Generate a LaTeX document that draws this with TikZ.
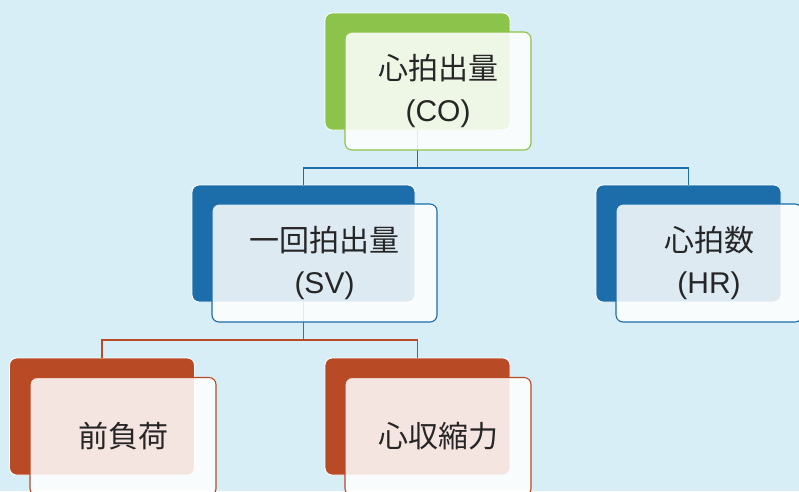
\documentclass[tikz,border=0pt]{standalone}
\usepackage{fontspec}
\newfontfamily\jpfont{Noto Sans CJK JP}
\newfontfamily\latfont{Liberation Sans}
\usetikzlibrary{positioning}

\definecolor{bgblue}{HTML}{D7EEF6}
\definecolor{cogreen}{HTML}{8CC34A}
\definecolor{svblue}{HTML}{1B6EA9}
\definecolor{prered}{HTML}{B84A26}

\tikzset{
  backbox/.style={rounded corners=7pt, fill=#1, draw=white, line width=0.9pt,
    minimum width=185pt, minimum height=117pt, inner sep=0pt},
  frontbox/.style={rounded corners=7pt, fill=white, fill opacity=0.86, text opacity=1,
    draw=#1, draw opacity=1, line width=1.1pt, minimum width=186pt, minimum height=118pt,
    align=center, inner sep=0pt, font=\jpfont\fontsize{30}{42}\selectfont, text=black!85},
  link/.style={draw=#1, line width=1.1pt}
}

\begin{document}
\begin{tikzpicture}[x=1pt, y=-1pt]
  \fill[bgblue] (0,0) rectangle (799,491);
  \useasboundingbox (0,0) rectangle (799,491);

  \node (co-b) [backbox=cogreen] at (417.5,71.5) {};
  \node (sv-b) [backbox=svblue, minimum width=223pt] at (303.5,243.5) {};
  \node (hr-b) [backbox=svblue] at (688.5,243.5) {};
  \node (pl-b) [backbox=prered] at (102,416.5) {};
  \node (ct-b) [backbox=prered] at (417.5,416.5) {};

  \coordinate (j1) at (417.5,168);
  \coordinate (j2) at (303.5,340);
  \draw[link=svblue] (co-b.south) -- (j1) -| (sv-b.north);
  \draw[link=svblue] (j1) -| (hr-b.north);
  \draw[link=prered] (sv-b.south) -- (j2) -| (pl-b.north);
  \draw[link=prered] (j2) -| (ct-b.north);

  \node (co) [frontbox=cogreen] at ([shift={(20.5pt,-19.5pt)}]co-b.center) {心拍出量\\{\latfont (CO)}};
  \node (sv) [frontbox=svblue, minimum width=225pt] at ([shift={(21pt,-19.5pt)}]sv-b.center) {一回拍出量\\{\latfont (SV)}};
  \node (hr) [frontbox=svblue] at ([shift={(20.5pt,-19.5pt)}]hr-b.center) {心拍数\\{\latfont (HR)}};
  \node (pl) [frontbox=prered] at ([shift={(21pt,-20pt)}]pl-b.center) {前負荷};
  \node (ct) [frontbox=prered] at ([shift={(20.5pt,-20pt)}]ct-b.center) {心収縮力};
\end{tikzpicture}
\end{document}
